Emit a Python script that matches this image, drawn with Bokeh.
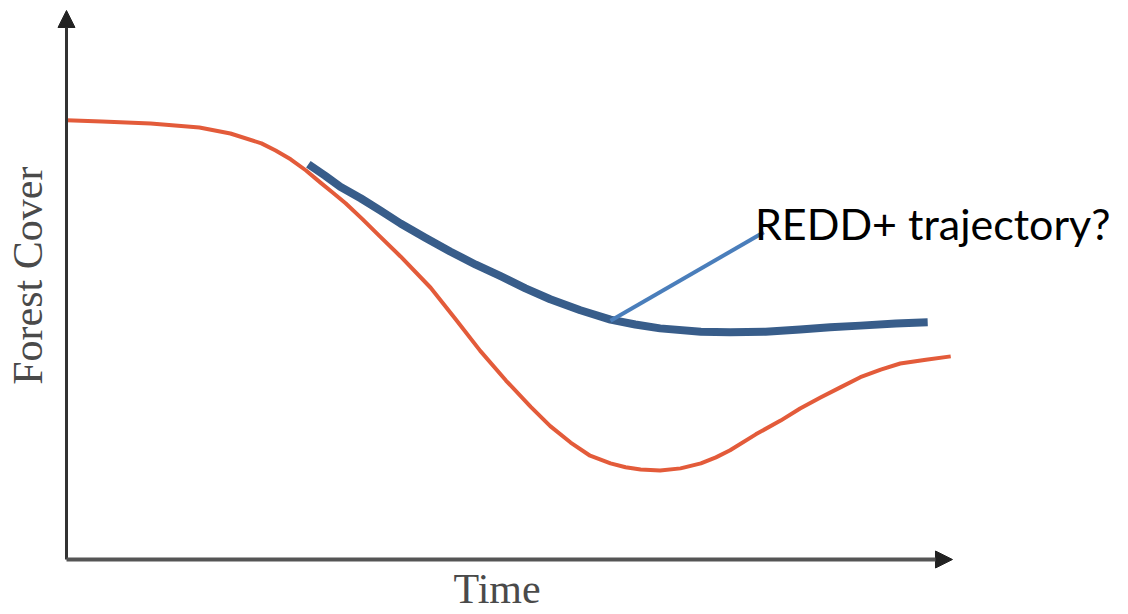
import math
from bokeh.plotting import figure
from bokeh.models import Range1d, Arrow, NormalHead, Label
from bokeh.embed import file_html
from bokeh.resources import INLINE

# Forest transition curve
orange_time = [0, 4, 9.5, 15, 18.5, 22, 23.6, 25.3, 27.0, 28.7, 30.0, 31.5, 33.4, 35.4,
               37.7, 41.1, 43.9, 46.7, 49.6, 52.4, 54.6, 56.9, 59.1, 61.4, 63.1, 64.8,
               67, 69.3, 71.6, 73.3, 74.9, 77.8, 80.6, 82.8, 85.1, 87.4, 89.6, 91.9,
               94.1, 97.0, 99.8]
orange_cover = [80, 79.8, 79.4, 78.7, 77.6, 75.8, 74.5, 72.9, 70.9, 68.6, 66.9, 64.9, 62.0,
                58.8, 55.2, 49.5, 43.8, 38.0, 32.6, 27.8, 24.3, 21.3, 18.9, 17.5, 16.8,
                16.4, 16.2, 16.6, 17.5, 18.6, 19.9, 22.8, 25.3, 27.5, 29.5, 31.4, 33.2,
                34.6, 35.7, 36.4, 37]

# REDD+ trajectory
blue_time = [27.3, 29.2, 30.9, 33.2, 35.4, 37.7, 40.5, 43.3, 46.2, 49.0, 51.8, 54.6,
             58.0, 61.4, 64.2, 67.0, 71.6, 74.9, 78.9, 82.8, 86.2, 89.6, 93.6, 97.2]
blue_cover = [72.0, 69.9, 67.9, 65.8, 63.6, 61.2, 58.6, 56.1, 53.7, 51.6, 49.4, 47.4,
              45.4, 43.7, 42.8, 42.1, 41.5, 41.4, 41.5, 41.9, 42.3, 42.6, 43.0, 43.2]

# Callout
callout_time = [61.4, 78.7]
callout_cover = [43.5, 59.6]
callout_text = "REDD+  trajectory?"

x_label = "Time"
y_label = "Forest Cover"

p = figure(width=1128, height=614, output_backend="svg", toolbar_location=None,
           x_axis_type=None, y_axis_type=None, min_border=0,
           x_range=Range1d(-7.449, 119.865), y_range=Range1d(-10.018, 101.821))
p.grid.visible = False
p.outline_line_color = None
p.background_fill_color = "white"
p.border_fill_color = "white"

# axes with arrows
p.add_layout(Arrow(x_start=0, y_start=0, x_end=0, y_end=100, line_color="#333333",
                   line_width=3, end=NormalHead(size=17, fill_color="#222222",
                                                line_color="#222222")))
p.add_layout(Arrow(x_start=0, y_start=0, x_end=100, y_end=0, line_color="#555555",
                   line_width=4, end=NormalHead(size=17, fill_color="#222222",
                                                line_color="#222222")))

p.line(orange_time, orange_cover, line_color="#E35B3A", line_width=4, line_join="round")
p.line(blue_time, blue_cover, line_color="#385D8A", line_width=8, line_cap="butt",
       line_join="round")
p.line(callout_time, callout_cover, line_color="#4A7EBB", line_width=4)

p.add_layout(Label(x=77.7, y=61.2, text=callout_text, text_font="Lato",
                   text_font_size="43px", text_color="black",
                   text_baseline="alphabetic", text_align="left"))
p.add_layout(Label(x=48.6, y=-5.4, text=x_label, text_font="Liberation Serif",
                   text_font_size="42px", text_color="#4a4a4a",
                   text_baseline="alphabetic", text_align="center"))
p.add_layout(Label(x=-4.3, y=51.7, text=y_label, text_font="Liberation Serif",
                   text_font_size="42px", text_color="#4a4a4a", angle=math.pi / 2,
                   text_baseline="alphabetic", text_align="center"))

open("out.html", "w").write(file_html(p, INLINE))
